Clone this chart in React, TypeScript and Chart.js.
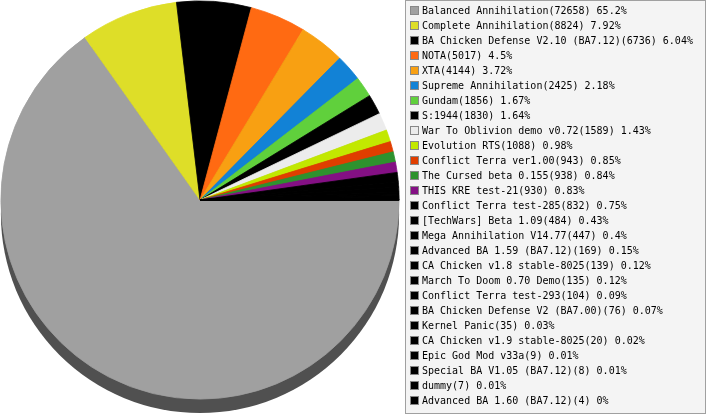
import React, { useEffect, useRef } from "react";
import { Chart, registerables } from "chart.js";

Chart.register(...registerables);

const categories: string[] = [
  "Balanced Annihilation",
  "Complete Annihilation",
  "BA Chicken Defense V2.10 (BA7.12)",
  "NOTA",
  "XTA",
  "Supreme Annihilation",
  "Gundam",
  "S:1944",
  "War To Oblivion demo v0.72",
  "Evolution RTS",
  "Conflict Terra ver1.00",
  "The Cursed beta 0.155",
  "THIS KRE test-21",
  "Conflict Terra test-285",
  "[TechWars] Beta 1.09",
  "Mega Annihilation V14.77",
  "Advanced BA 1.59 (BA7.12)",
  "CA Chicken v1.8 stable-8025",
  "March To Doom 0.70 Demo",
  "Conflict Terra test-293",
  "BA Chicken Defense V2 (BA7.00)",
  "Kernel Panic",
  "CA Chicken v1.9 stable-8025",
  "Epic God Mod v33a",
  "Special BA V1.05 (BA7.12)",
  "dummy",
  "Advanced BA 1.60 (BA7.12)",
];

const values: number[] = [
  72658, 8824, 6736, 5017, 4144, 2425, 1856, 1830, 1589, 1088, 943, 938, 930,
  832, 484, 447, 169, 139, 135, 104, 76, 35, 20, 9, 8, 7, 4,
];

const percentLabels: string[] = [
  "65.2%", "7.92%", "6.04%", "4.5%", "3.72%", "2.18%", "1.67%", "1.64%",
  "1.43%", "0.98%", "0.85%", "0.84%", "0.83%", "0.75%", "0.43%", "0.4%",
  "0.15%", "0.12%", "0.12%", "0.09%", "0.07%", "0.03%", "0.02%", "0.01%",
  "0.01%", "0.01%", "0%",
];

const colors: string[] = [
  "#a0a0a0", "#dede28", "#000000", "#ff6a12", "#f8a012", "#1282d6",
  "#60d03c", "#000000", "#ececec", "#c2e800", "#e03e00", "#2e922e",
  "#841084", "#000000", "#000000", "#000000", "#000000", "#000000",
  "#000000", "#000000", "#000000", "#000000", "#000000", "#000000",
  "#000000", "#000000", "#000000",
];

const shadowPlugin = {
  id: "pieShadow",
  beforeDatasetsDraw(chart: any) {
    const arc = chart.getDatasetMeta(0).data[0];
    if (!arc) return;
    const { x, y, outerRadius } = arc.getProps(["x", "y", "outerRadius"], true);
    const ctx = chart.ctx;
    ctx.save();
    ctx.fillStyle = "#505050";
    ctx.beginPath();
    ctx.arc(x, y + 14, outerRadius, 0, Math.PI * 2);
    ctx.fill();
    ctx.restore();
  },
};

const legendPlugin = {
  id: "boxLegend",
  afterDraw(chart: any) {
    const ctx = chart.ctx;
    const labels: string[] = chart.data.labels;
    const ds = chart.data.datasets[0];
    ctx.save();
    ctx.fillStyle = "#f4f4f4";
    ctx.fillRect(405, 0, 301, 414);
    ctx.strokeStyle = "#a0a0a0";
    ctx.lineWidth = 1;
    ctx.strokeRect(405.5, 0.5, 300, 413);
    ctx.font = '10px "DejaVu Sans Mono"';
    ctx.textBaseline = "middle";
    ctx.textAlign = "left";
    labels.forEach((lab, i) => {
      const cy = 11.7 + 15 * i;
      ctx.fillStyle = ds.backgroundColor[i];
      ctx.fillRect(410.5, Math.round(cy - 4.5) + 0.5 - 1, 8, 8);
      ctx.strokeStyle = "#888888";
      ctx.strokeRect(410.5, Math.round(cy - 4.5) + 0.5 - 1, 8, 8);
      ctx.fillStyle = "#000000";
      ctx.fillText(`${lab}(${ds.data[i]}) ${percentLabels[i]}`, 422, cy);
    });
    ctx.restore();
  },
};

export default function App() {
  const ref = useRef<HTMLCanvasElement>(null);
  useEffect(() => {
    document.body.style.margin = "0";
    const chart = new Chart(ref.current as HTMLCanvasElement, {
      type: "pie",
      data: {
        labels: categories,
        datasets: [
          {
            data: values,
            backgroundColor: colors,
            borderColor: colors,
            borderWidth: 0.8,
          },
        ],
      },
      options: {
        responsive: false,
        animation: false,
        rotation: 90,
        layout: { padding: { left: 0.5, right: 307.5, top: 0.5, bottom: 15.5 } },
        plugins: {
          legend: { display: false },
          tooltip: { enabled: false },
        },
      },
      plugins: [shadowPlugin, legendPlugin],
    });
    return () => chart.destroy();
  }, []);
  return (
    <div style={{ position: "absolute", left: 0, top: 0, width: 707, height: 415, background: "#ffffff" }}>
      <canvas ref={ref} width={707} height={415} />
    </div>
  );
}
